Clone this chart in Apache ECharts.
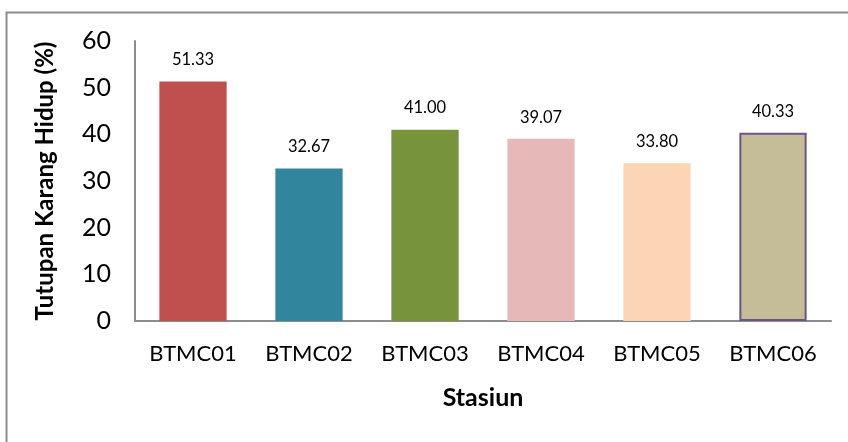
<!DOCTYPE html>
<html>
<head>
<meta charset="utf-8">
<style>
  html, body { margin: 0; padding: 0; background: #fff; }
  #chart { width: 848px; height: 442px; }
</style>
<script src="https://cdn.jsdelivr.net/npm/echarts@6/dist/echarts.min.js"></script>
</head>
<body>
<div id="chart"></div>
<script>
// Live coral cover per station
const stations = ['BTMC01', 'BTMC02', 'BTMC03', 'BTMC04', 'BTMC05', 'BTMC06'];
const coverValues = [51.33, 32.67, 41.00, 39.07, 33.80, 40.33];
const barColors = ['#C0504D', '#31859C', '#77933C', '#E6B9B8', '#FCD5B5', '#C4BD97'];
const yTicks = [0, 10, 20, 30, 40, 50, 60];

const FONT = 'Lato, "Liberation Sans", sans-serif';
const chart = echarts.init(document.getElementById('chart'), null, { renderer: 'canvas' });

chart.setOption({
  animation: false,
  backgroundColor: '#ffffff',
  graphic: [{
    type: 'rect',
    shape: { x: 6.5, y: 12.5, width: 1000, height: 600 },
    style: { fill: 'none', stroke: '#8c8c8c', lineWidth: 2 },
    z: -1
  }],
  grid: { left: 135, right: 17, top: 41, bottom: 121, containLabel: false },
  xAxis: {
    type: 'category',
    data: stations,
    name: 'Stasiun',
    nameLocation: 'middle',
    nameGap: 64,
    nameTextStyle: { fontFamily: FONT, fontSize: 25, fontWeight: 'bold', color: '#000' },
    axisLine: { show: true, lineStyle: { color: '#8c8c8c', width: 2 } },
    axisTick: { show: false },
    axisLabel: { fontFamily: FONT, fontSize: 22, color: '#000', margin: 22 }
  },
  yAxis: {
    type: 'value',
    min: yTicks[0],
    max: yTicks[yTicks.length - 1],
    interval: 10,
    name: 'Tutupan Karang Hidup (%)',
    nameLocation: 'middle',
    nameGap: 78,
    nameRotate: 90,
    nameTextStyle: { fontFamily: FONT, fontSize: 24, fontWeight: 'bold', color: '#000' },
    splitLine: { show: false },
    axisLine: { show: true, lineStyle: { color: '#8c8c8c', width: 2 } },
    axisTick: { show: false },
    axisLabel: { fontFamily: FONT, fontSize: 25, color: '#000', margin: 24 }
  },
  series: [{
    type: 'bar',
    barWidth: '58%',
    data: coverValues.map((v, i) => ({
      value: v,
      itemStyle: i === 5
        ? { color: barColors[i], borderColor: '#6A5587', borderWidth: 2 }
        : { color: barColors[i] }
    })),
    label: {
      show: true,
      position: 'top',
      distance: 13,
      fontFamily: FONT,
      fontSize: 16.5,
      color: '#000',
      formatter: p => p.value.toFixed(2)
    }
  }]
});
</script>
</body>
</html>
